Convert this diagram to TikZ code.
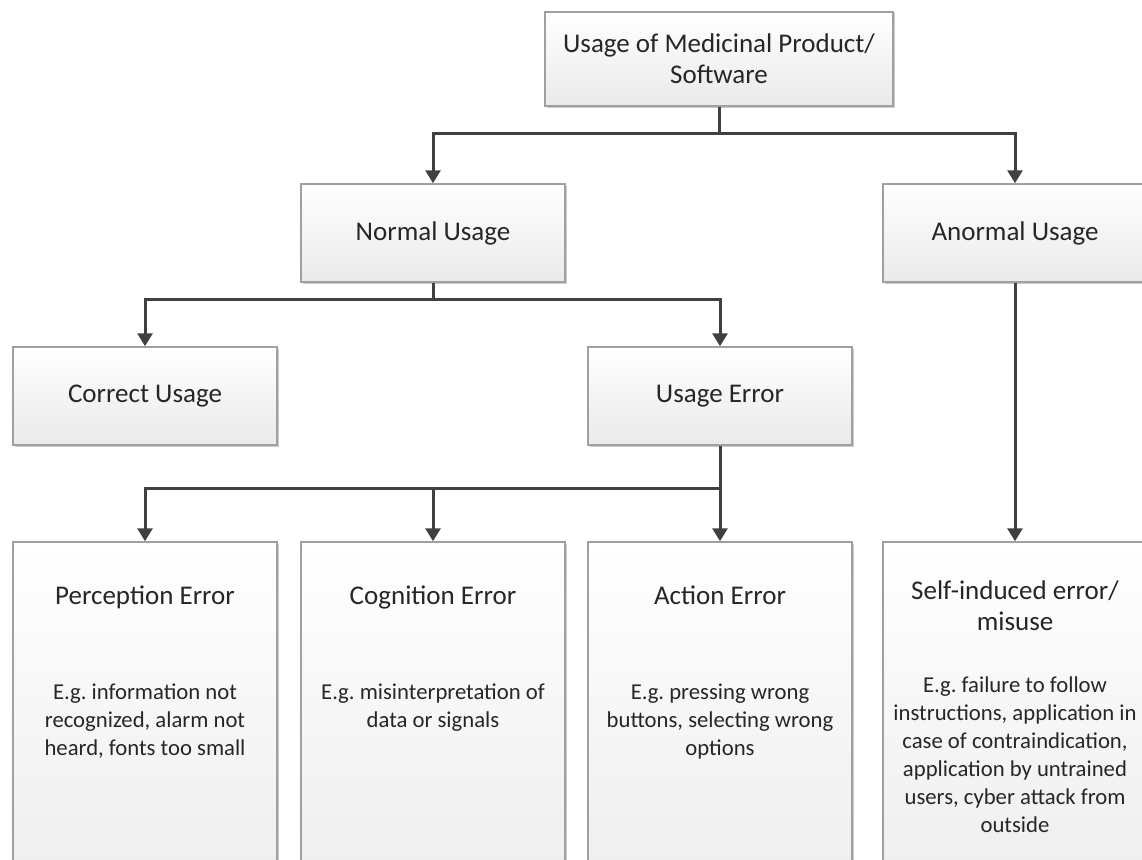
\documentclass[tikz,border=0pt]{standalone}
\usepackage{fontspec}
\setmainfont{Carlito}
\frenchspacing
\usetikzlibrary{arrows.meta,shadows,calc}

\definecolor{ink}{RGB}{38,38,42}
\definecolor{boxline}{RGB}{160,160,160}
\definecolor{boxfill}{RGB}{234,234,234}
\definecolor{wire}{RGB}{64,64,64}

\newcommand{\titlefont}{\fontsize{27}{31}\selectfont}
\newcommand{\bodyfont}{\fontsize{22.7}{28}\selectfont}

\tikzset{
  box/.style={draw=boxline, line width=1.5pt, top color=white, bottom color=boxfill,
    drop shadow={shadow xshift=1.5pt, shadow yshift=-1.5pt, fill=black!45, opacity=.45},
    minimum width=264pt, minimum height=98pt, inner sep=0pt,
    align=center, text=ink, font=\titlefont},
  tallbox/.style={box, minimum height=338pt, bottom color=boxfill!80!white},
  % multi-line texts sit on the baseline of their last line
  ttl/.style={anchor=base, inner sep=0pt, align=center, text=ink, font=\titlefont},
  body/.style={anchor=base, inner sep=0pt, align=center, text=ink, font=\bodyfont},
  wireline/.style={draw=wire, line width=3pt},
  arrow/.style={wireline, -{Triangle[width=15pt,length=13pt]}},
}

\begin{document}
\begin{tikzpicture}[x=1pt, y=-1pt]
\useasboundingbox (0,0) rectangle (1142,859);
\clip (0,0) rectangle (1142,859);

% boxes
\node[box, minimum width=348pt, minimum height=94pt] (top) at (719,59)
  {Usage of Medicinal Product/\\Software};
\node[box] (normal)  at (433,233) {Normal Usage};
\node[box] (anormal) at (1015,233) {Anormal Usage};
\node[box] (correct) at (145,396) {Correct Usage};
\node[box] (uerr)    at (720,396) {Usage Error};

\node[tallbox] (perc) at (145,711) {};
\node[tallbox] (cog)  at (433,711) {};
\node[tallbox] (act)  at (720,711) {};
\node[tallbox] (self) at (1015,711) {};

% texts of the tall boxes
\node[ttl] (percT) at ($(perc.north)+(0,63)$) {Perception Error};
\node[body] (percB) at ($(perc.north)+(0,214)$)
  {E.g. information not\\recognized, alarm not\\heard, fonts too small};
\node[ttl] (cogT) at ($(cog.north)+(0,63)$) {Cognition Error};
\node[body] (cogB) at ($(cog.north)+(0,186)$)
  {E.g. misinterpretation of\\data or signals};
\node[ttl] (actT) at ($(act.north)+(0,63)$) {Action Error};
\node[body] (actB) at ($(act.north)+(0,214)$)
  {E.g. pressing wrong\\buttons, selecting wrong\\options};
\node[ttl] (selfT) at ($(self.north)+(0,89)$) {Self-induced error/\\misuse};
\node[body] (selfB) at ($(self.north)+(0,291)$)
  {E.g. failure to follow\\instructions, application in\\case of contraindication,\\application by untrained\\users, cyber attack from\\outside};

% junction points
\coordinate (j1) at ($(top.south)+(0,27)$);
\coordinate (j2) at ($(normal.south)+(0,17)$);
\coordinate (j3) at ($(uerr.south)+(0,43)$);

% connectors
\draw[wireline] (top.south) -- (j1);
\draw[arrow] (j1) -| (normal.north);
\draw[arrow] (j1) -| (anormal.north);

\draw[wireline] (normal.south) -- (j2);
\draw[arrow] (j2) -| (correct.north);
\draw[arrow] (j2) -| (uerr.north);

\draw[arrow] (uerr.south) -- (act.north);
\draw[arrow] (j3) -| (perc.north);
\draw[arrow] (j3) -| (cog.north);

\draw[arrow] (anormal.south) -- (self.north);
\end{tikzpicture}
\end{document}
